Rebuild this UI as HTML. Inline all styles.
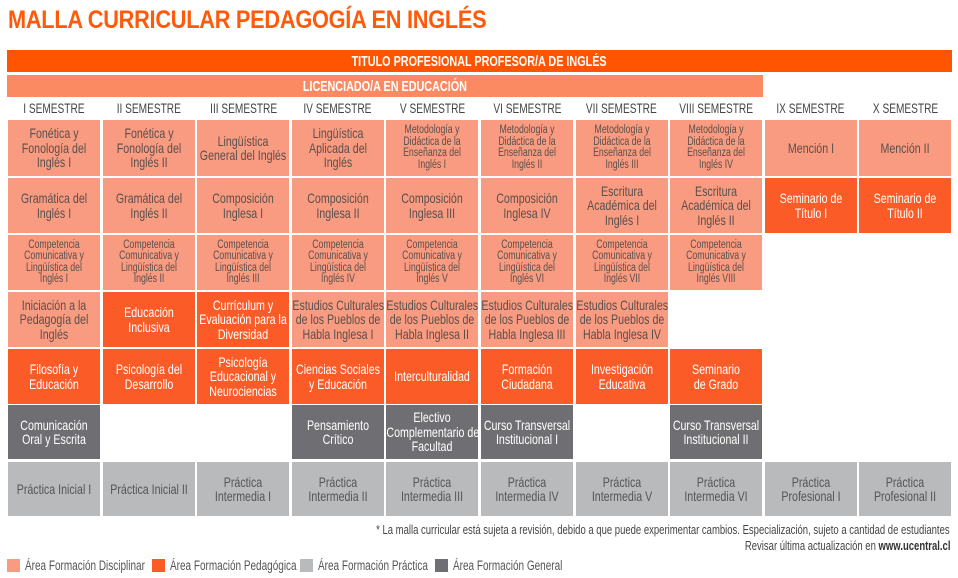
<!DOCTYPE html>
<html><head><meta charset="utf-8"><style>
body{margin:0;width:958px;height:578px;background:#fff;position:relative;overflow:hidden;font-family:"Liberation Sans",sans-serif;}
.t{position:absolute;left:8px;top:6px;font-size:25px;font-weight:bold;color:#ff5a0a;letter-spacing:-0.3px;white-space:nowrap;transform:scaleX(0.87);transform-origin:left top;}
.bar{position:absolute;color:#fff;font-weight:bold;font-size:15px;display:flex;justify-content:center;align-items:center;}
.bar span{display:block;white-space:nowrap;transform:scaleX(0.72);}
.h{position:absolute;top:100px;width:92px;height:18px;display:flex;justify-content:center;font-size:13.5px;color:#444;line-height:18px;}
.h span{display:block;white-space:nowrap;transform:scaleX(0.75);}
.c{position:absolute;width:92px;height:55px;display:flex;align-items:center;justify-content:center;text-align:center;font-size:14px;line-height:14.5px;color:#5a4f4c;}
.c span{display:block;flex:none;width:120px;white-space:nowrap;transform:scaleX(0.76);}
.s{font-size:11.5px;line-height:11.5px;}
.L{background:#f99b80;}
.O{background:#fb5b26;color:#fff;}
.D{background:#6f6f73;color:#fff;}
.G{background:#b9babc;color:#555;}
.c1{left:8px}.c2{left:102.6px}.c3{left:197.2px}.c4{left:291.8px}.c5{left:386.4px}.c6{left:481px}.c7{left:575.6px}.c8{left:670.2px}.c9{left:764.8px}.c10{left:859.4px}
.r1{top:120px;height:56px}.r2{top:178px}.r3{top:235px}.r4{top:292px}.r5{top:349px}.r6{top:405px;height:54px}.r7{top:462px;height:54px}
.note{position:absolute;right:8px;text-align:right;font-size:12.5px;color:#444;white-space:nowrap;transform:scaleX(0.76);transform-origin:right top;}
.lg{position:absolute;top:558px;font-size:13.5px;color:#555;white-space:nowrap;}
.lg i{display:inline-block;width:13px;height:13px;vertical-align:-2px;margin-right:5px;}
.lg span{display:inline-block;transform:scaleX(0.74);transform-origin:left center;}
</style></head><body>
<div class="t">MALLA CURRICULAR PEDAGOGÍA EN INGLÉS</div>
<div class="bar" style="left:7px;top:50px;width:945px;height:22px;background:#ff5500;"><span>TITULO PROFESIONAL PROFESOR/A DE INGLÉS</span></div>
<div class="bar" style="left:7px;top:75px;width:756px;height:22px;background:#fb8a62;"><span>LICENCIADO/A EN EDUCACIÓN</span></div>

<div class="h c1"><span>I SEMESTRE</span></div><div class="h c2"><span>II SEMESTRE</span></div><div class="h c3"><span>III SEMESTRE</span></div><div class="h c4"><span>IV SEMESTRE</span></div><div class="h c5"><span>V SEMESTRE</span></div><div class="h c6"><span>VI SEMESTRE</span></div><div class="h c7"><span>VII SEMESTRE</span></div><div class="h c8"><span>VIII SEMESTRE</span></div><div class="h c9"><span>IX SEMESTRE</span></div><div class="h c10"><span>X SEMESTRE</span></div>

<div class="c L c1 r1"><span>Fonética y<br>Fonología del<br>Inglés I</span></div>
<div class="c L c2 r1"><span>Fonética y<br>Fonología del<br>Inglés II</span></div>
<div class="c L c3 r1"><span>Lingüística<br>General del Inglés</span></div>
<div class="c L c4 r1"><span>Lingüística<br>Aplicada del<br>Inglés</span></div>
<div class="c L c5 r1 s"><span>Metodología y<br>Didáctica de la<br>Enseñanza del<br>Inglés I</span></div>
<div class="c L c6 r1 s"><span>Metodología y<br>Didáctica de la<br>Enseñanza del<br>Inglés II</span></div>
<div class="c L c7 r1 s"><span>Metodología y<br>Didáctica de la<br>Enseñanza del<br>Inglés III</span></div>
<div class="c L c8 r1 s"><span>Metodología y<br>Didáctica de la<br>Enseñanza del<br>Inglés IV</span></div>
<div class="c L c9 r1"><span>Mención I</span></div>
<div class="c L c10 r1"><span>Mención II</span></div>

<div class="c L c1 r2"><span>Gramática del<br>Inglés I</span></div>
<div class="c L c2 r2"><span>Gramática del<br>Inglés II</span></div>
<div class="c L c3 r2"><span>Composición<br>Inglesa I</span></div>
<div class="c L c4 r2"><span>Composición<br>Inglesa II</span></div>
<div class="c L c5 r2"><span>Composición<br>Inglesa III</span></div>
<div class="c L c6 r2"><span>Composición<br>Inglesa IV</span></div>
<div class="c L c7 r2"><span>Escritura<br>Académica del<br>Inglés I</span></div>
<div class="c L c8 r2"><span>Escritura<br>Académica del<br>Inglés II</span></div>
<div class="c O c9 r2"><span>Seminario de<br>Título I</span></div>
<div class="c O c10 r2"><span>Seminario de<br>Título II</span></div>

<div class="c L c1 r3 s"><span>Competencia<br>Comunicativa y<br>Lingüística del<br>Inglés I</span></div>
<div class="c L c2 r3 s"><span>Competencia<br>Comunicativa y<br>Lingüística del<br>Inglés II</span></div>
<div class="c L c3 r3 s"><span>Competencia<br>Comunicativa y<br>Lingüística del<br>Inglés III</span></div>
<div class="c L c4 r3 s"><span>Competencia<br>Comunicativa y<br>Lingüística del<br>Inglés IV</span></div>
<div class="c L c5 r3 s"><span>Competencia<br>Comunicativa y<br>Lingüística del<br>Inglés V</span></div>
<div class="c L c6 r3 s"><span>Competencia<br>Comunicativa y<br>Lingüística del<br>Inglés VI</span></div>
<div class="c L c7 r3 s"><span>Competencia<br>Comunicativa y<br>Lingüística del<br>Inglés VII</span></div>
<div class="c L c8 r3 s"><span>Competencia<br>Comunicativa y<br>Lingüística del<br>Inglés VIII</span></div>

<div class="c L c1 r4"><span>Iniciación a la<br>Pedagogía del<br>Inglés</span></div>
<div class="c O c2 r4"><span>Educación<br>Inclusiva</span></div>
<div class="c O c3 r4"><span>Currículum y<br>Evaluación para la<br>Diversidad</span></div>
<div class="c L c4 r4"><span>Estudios Culturales<br>de los Pueblos de<br>Habla Inglesa I</span></div>
<div class="c L c5 r4"><span>Estudios Culturales<br>de los Pueblos de<br>Habla Inglesa II</span></div>
<div class="c L c6 r4"><span>Estudios Culturales<br>de los Pueblos de<br>Habla Inglesa III</span></div>
<div class="c L c7 r4"><span>Estudios Culturales<br>de los Pueblos de<br>Habla Inglesa IV</span></div>

<div class="c O c1 r5"><span>Filosofía y<br>Educación</span></div>
<div class="c O c2 r5"><span>Psicología del<br>Desarrollo</span></div>
<div class="c O c3 r5"><span>Psicología<br>Educacional y<br>Neurociencias</span></div>
<div class="c O c4 r5"><span>Ciencias Sociales<br>y Educación</span></div>
<div class="c O c5 r5"><span>Interculturalidad</span></div>
<div class="c O c6 r5"><span>Formación<br>Ciudadana</span></div>
<div class="c O c7 r5"><span>Investigación<br>Educativa</span></div>
<div class="c O c8 r5"><span>Seminario<br>de Grado</span></div>

<div class="c D c1 r6"><span>Comunicación<br>Oral y Escrita</span></div>
<div class="c D c4 r6"><span>Pensamiento<br>Crítico</span></div>
<div class="c D c5 r6"><span>Electivo<br>Complementario de<br>Facultad</span></div>
<div class="c D c6 r6"><span>Curso Transversal<br>Institucional I</span></div>
<div class="c D c8 r6"><span>Curso Transversal<br>Institucional II</span></div>

<div class="c G c1 r7"><span>Práctica Inicial I</span></div>
<div class="c G c2 r7"><span>Práctica Inicial II</span></div>
<div class="c G c3 r7"><span>Práctica<br>Intermedia I</span></div>
<div class="c G c4 r7"><span>Práctica<br>Intermedia II</span></div>
<div class="c G c5 r7"><span>Práctica<br>Intermedia III</span></div>
<div class="c G c6 r7"><span>Práctica<br>Intermedia IV</span></div>
<div class="c G c7 r7"><span>Práctica<br>Intermedia V</span></div>
<div class="c G c8 r7"><span>Práctica<br>Intermedia VI</span></div>
<div class="c G c9 r7"><span>Práctica<br>Profesional I</span></div>
<div class="c G c10 r7"><span>Práctica<br>Profesional II</span></div>

<div class="note" style="top:523px;">* La malla curricular está sujeta a revisión, debido a que puede experimentar cambios. Especialización, sujeto a cantidad de estudiantes</div>
<div class="note" style="top:539px;">Revisar última actualización en <b style="color:#333">www.ucentral.cl</b></div>

<div class="lg" style="left:7px;"><i style="background:#f99b80"></i><span>Área Formación Disciplinar</span></div>
<div class="lg" style="left:152px;"><i style="background:#fb5b26"></i><span>Área Formación Pedagógica</span></div>
<div class="lg" style="left:300px;"><i style="background:#b9babc"></i><span>Área Formación Práctica</span></div>
<div class="lg" style="left:435px;"><i style="background:#6f6f73"></i><span>Área Formación General</span></div>
</body></html>
